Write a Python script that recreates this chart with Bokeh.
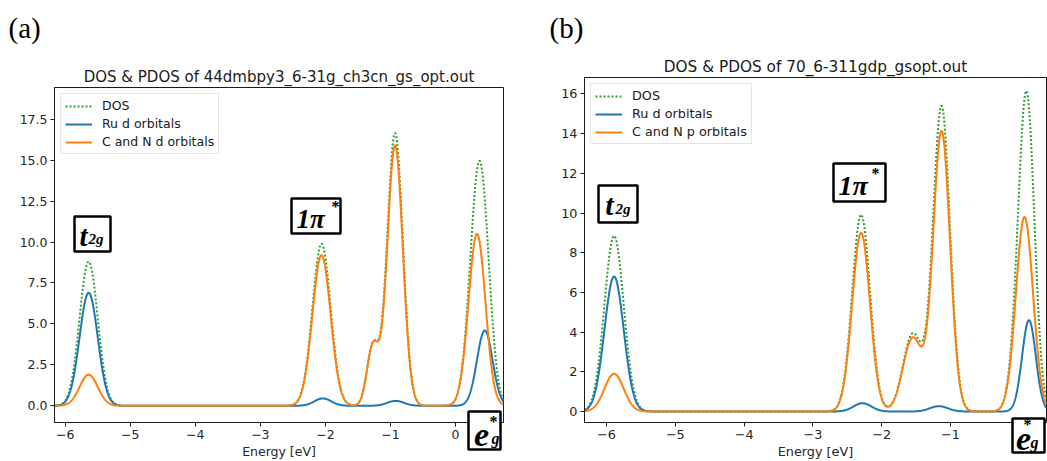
import numpy as np
from bokeh.plotting import figure
from bokeh.models import Label, Range1d, FixedTicker, GridBox
from bokeh.embed import file_html
from bokeh.resources import INLINE

# ---------------- data ----------------
series_names_a = ["DOS", "Ru d orbitals", "C and N d orbitals"]
series_names_b = ["DOS", "Ru d orbitals", "C and N p orbitals"]

title_a = "DOS & PDOS of 44dmbpy3_6-31g_ch3cn_gs_opt.out"
title_b = "DOS & PDOS of 70_6-311gdp_gsopt.out"
panel_tags = ["(a)", "(b)"]

# panel (a): broadened levels (energy [eV], peak height, gaussian sigma [eV])
a_ru_energy = [-5.64, -2.04, -0.92, 0.45]
a_ru_height = [6.9, 0.45, 0.30, 4.6]
a_ru_sigma = [0.14, 0.13, 0.13, 0.12]
a_cn_energy = [-5.64, -2.06, -1.27, -0.93, 0.33]
a_cn_height = [1.9, 9.2, 3.6, 15.9, 10.5]
a_cn_sigma = [0.14, 0.14, 0.09, 0.12, 0.13]
a_rest_energy = [-2.06, -0.93, 0.40]
a_rest_height = [0.25, 0.45, 1.3]
a_rest_sigma = [0.14, 0.12, 0.12]

# panel (b)
b_ru_energy = [-5.89, -2.28, -1.17, 0.14]
b_ru_height = [6.8, 0.42, 0.27, 4.6]
b_ru_sigma = [0.14, 0.13, 0.13, 0.10]
b_cn_energy = [-5.89, -2.30, -1.55, -1.13, 0.075]
b_cn_height = [1.9, 9.0, 3.7, 14.1, 9.8]
b_cn_sigma = [0.14, 0.13, 0.14, 0.123, 0.125]
b_rest_energy = [-5.89, -2.30, -1.55, -1.13, 0.10]
b_rest_height = [0.15, 0.5, 0.2, 1.0, 2.3]
b_rest_sigma = [0.14, 0.13, 0.14, 0.123, 0.11]

a_x_ticks = [-6, -5, -4, -3, -2, -1, 0]
a_x_tick_labels = ["\u22126", "\u22125", "\u22124", "\u22123", "\u22122", "\u22121", "0"]
a_y_ticks = [0, 2.5, 5, 7.5, 10, 12.5, 15, 17.5]
a_y_tick_labels = ["0.0", "2.5", "5.0", "7.5", "10.0", "12.5", "15.0", "17.5"]
b_x_ticks = [-6, -5, -4, -3, -2, -1, 0]
b_x_tick_labels = ["\u22126", "\u22125", "\u22124", "\u22123", "\u22122", "\u22121", "0"]
b_y_ticks = [0, 2, 4, 6, 8, 10, 12, 14, 16]
b_y_tick_labels = ["0", "2", "4", "6", "8", "10", "12", "14", "16"]

a_x_range = (-6.165, 0.738)
a_y_range = (-1.02, 19.44)
b_x_range = (-6.32, 0.395)
b_y_range = (-0.554, 16.83)

x_label = "Energy [eV]"

C_DOS = "#2ca02c"
C_RU = "#1f77b4"
C_CN = "#ff7f0e"


def broaden(x, energies, heights, sigmas):
    y = np.zeros_like(x)
    for e, h, s in zip(energies, heights, sigmas):
        y += h * np.exp(-((x - e) ** 2) / (2.0 * s * s))
    return y


def make_panel(width, border_l, border_r, border_t, border_b, xr, yr, title,
               names, ru, cn, rest, xt, xtl, yt, ytl, fs, tfs):
    p = figure(width=width, height=461, x_range=Range1d(*xr), y_range=Range1d(*yr),
               output_backend="svg", toolbar_location=None, frame_align=False,
               min_border_left=border_l, min_border_right=border_r,
               min_border_top=border_t, min_border_bottom=border_b)
    p.background_fill_color = "white"
    p.border_fill_color = "white"
    p.outline_line_color = "#1a1a1a"
    p.outline_line_width = 1
    p.xgrid.visible = False
    p.ygrid.visible = False

    p.title.text = title
    p.title.align = "center"
    p.title.text_font = "DejaVu Sans"
    p.title.text_font_size = tfs
    p.title.text_font_style = "normal"
    p.title.text_color = "#1a1a1a"
    p.title.standoff = 3

    x = np.linspace(xr[0], xr[1], 1600)
    y_ru = broaden(x, *ru)
    y_cn = broaden(x, *cn)
    y_dos = y_ru + y_cn + broaden(x, *rest)

    p.line(x, y_dos, line_color=C_DOS, line_width=2, line_dash="2 2", legend_label=names[0])
    p.line(x, y_ru, line_color=C_RU, line_width=2, legend_label=names[1])
    p.line(x, y_cn, line_color=C_CN, line_width=2, legend_label=names[2])

    for ax in (p.xaxis[0], p.yaxis[0]):
        ax.axis_line_color = "#1a1a1a"
        ax.major_tick_line_color = "#1a1a1a"
        ax.major_tick_in = 0
        ax.major_tick_out = 4
        ax.minor_tick_line_color = None
        ax.major_label_text_font = "DejaVu Sans"
        ax.major_label_text_font_size = fs
        ax.major_label_text_color = "#262626"
        ax.major_label_standoff = 3
    p.xaxis.ticker = FixedTicker(ticks=xt)
    p.xaxis.major_label_overrides = dict(zip(xt, xtl))
    p.yaxis.ticker = FixedTicker(ticks=yt)
    p.yaxis.major_label_overrides = dict(zip(yt, ytl))
    p.xaxis.axis_label = x_label
    p.xaxis.axis_label_text_font = "DejaVu Sans"
    p.xaxis.axis_label_text_font_size = fs
    p.xaxis.axis_label_text_font_style = "normal"
    p.xaxis.axis_label_text_color = "#262626"
    p.xaxis.axis_label_standoff = 2

    lg = p.legend[0]
    lg.location = "top_left"
    lg.margin = 6
    lg.padding = 4
    lg.spacing = 3
    lg.label_height = 14
    lg.glyph_height = 14
    lg.glyph_width = 27
    lg.label_standoff = 10
    lg.label_text_font = "DejaVu Sans"
    lg.label_text_font_size = fs
    lg.label_text_color = "#1a1a1a"
    lg.border_line_color = "#cccccc"
    lg.border_line_width = 1
    lg.background_fill_alpha = 0.85
    return p


pa = make_panel(520, 54, 17, 87, 39, a_x_range, a_y_range, title_a, series_names_a,
                (a_ru_energy, a_ru_height, a_ru_sigma),
                (a_cn_energy, a_cn_height, a_cn_sigma),
                (a_rest_energy, a_rest_height, a_rest_sigma),
                a_x_ticks, a_x_tick_labels, a_y_ticks, a_y_tick_labels, "12.5px", "15px")
pb = make_panel(527, 64, 1, 77, 39, b_x_range, b_y_range, title_b, series_names_b,
                (b_ru_energy, b_ru_height, b_ru_sigma),
                (b_cn_energy, b_cn_height, b_cn_sigma),
                (b_rest_energy, b_rest_height, b_rest_sigma),
                b_x_ticks, b_x_tick_labels, b_y_ticks, b_y_tick_labels, "12.8px", "15.3px")

# ---------------- transparent overlay for the labelled boxes (page pixels) ----------------
ov = figure(width=1047, height=461, x_range=Range1d(0, 1047), y_range=Range1d(461, 0),
            output_backend="svg", toolbar_location=None, title=None, frame_align=False,
            x_axis_type=None, y_axis_type=None, min_border=0)
ov.outline_line_color = None
ov.background_fill_alpha = 0
ov.border_fill_alpha = 0

box_left = [74, 291, 468, 598, 833, 1012]
box_right = [110, 340, 500, 637, 885, 1044]
box_top = [216, 198, 411, 185, 163, 418]
box_bottom = [251, 233, 449, 222, 201, 452]
ov.quad(left=box_left, right=box_right, top=box_top, bottom=box_bottom,
        fill_color="white", fill_alpha=1.0, line_color="black", line_width=2.5)


def txt(x, y, text, size, align="left", style="bold italic", font="Liberation Serif"):
    ov.add_layout(Label(x=x, y=y, text=text, text_font=font, text_font_size=size,
                        text_font_style=style, text_align=align,
                        text_baseline="alphabetic", text_color="black"))


txt(8, 27, panel_tags[0], "29px", style="normal")
txt(549, 27, panel_tags[1], "29px", style="normal")

# panel (a) labels
txt(83, 235, "t", "29px", align="center")
txt(88, 238, "2g", "15px")
txt(296, 218, "1\u03c0", "27px")
txt(335, 206, "*", "16px", align="center", style="bold")
txt(481, 434, "e", "34px", align="center")
txt(493, 421, "*", "16px", align="center", style="bold")
txt(491, 438, "g", "16px")

# panel (b) labels
txt(609, 204, "t", "30px", align="center")
txt(615, 208, "2g", "15px")
txt(838, 185, "1\u03c0", "28px")
txt(875, 173, "*", "16px", align="center", style="bold")
txt(1023, 438, "e", "34px", align="center")
txt(1027, 424, "*", "16px", align="center", style="bold")
txt(1030, 442, "g", "16px")

layout = GridBox(children=[(pa, 0, 0), (pb, 0, 1), (ov, 0, 0, 1, 2)], spacing=0)
open("out.html", "w").write(file_html(layout, INLINE))
